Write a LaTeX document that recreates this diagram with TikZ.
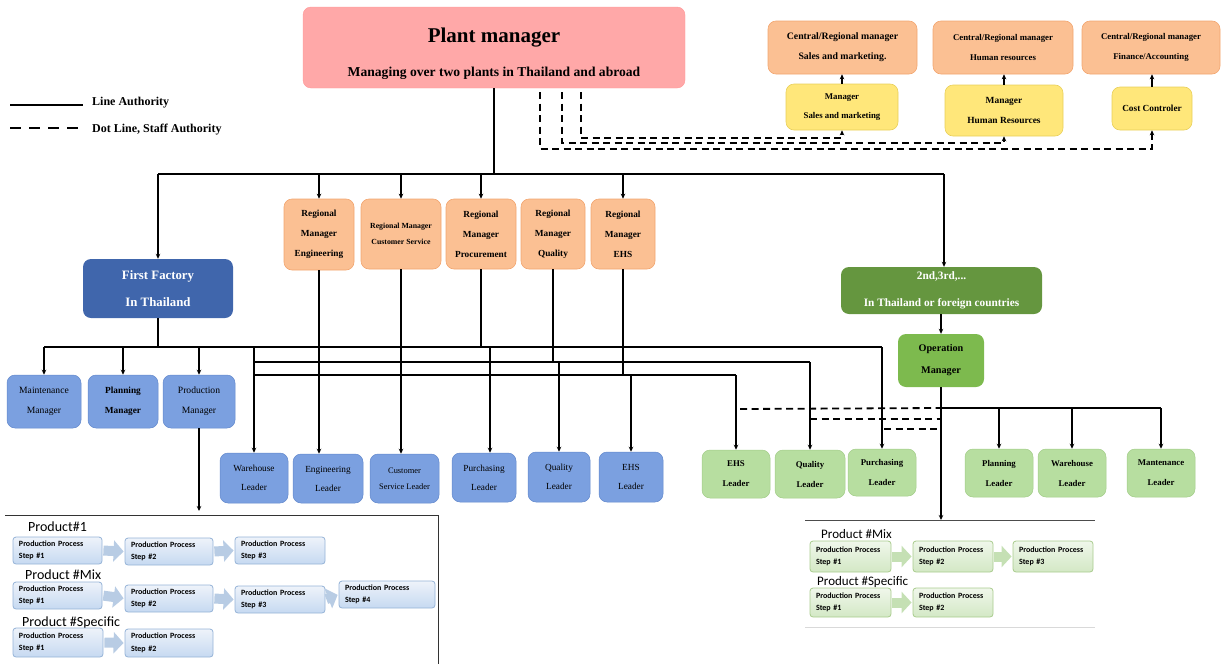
\documentclass[tikz,border=0pt]{standalone}
\usepackage{fontspec}
\setmainfont{Liberation Serif}
\newfontfamily\calib{Carlito}
\usetikzlibrary{arrows.meta,calc}
\definecolor{pmfill}{HTML}{FFA8A8}
\definecolor{peach}{HTML}{FBC093}
\definecolor{peachb}{HTML}{F2A670}
\definecolor{yel}{HTML}{FFE77A}
\definecolor{yelb}{HTML}{E8CF5A}
\definecolor{dblue}{HTML}{4066AC}
\definecolor{lblue}{HTML}{7BA0E0}
\definecolor{lblueb}{HTML}{6288CC}
\definecolor{dgreen}{HTML}{65963F}
\definecolor{mgreen}{HTML}{7DBA4E}
\definecolor{lgreen}{HTML}{B7DEA0}
\definecolor{lgreenb}{HTML}{A2CC88}
\definecolor{stepb}{HTML}{95B3D7}
\definecolor{steptop}{HTML}{EEF3FA}
\definecolor{stepbot}{HTML}{C6D9F1}
\definecolor{chevb}{HTML}{B8CCE4}
\definecolor{gstepb}{HTML}{A9CC8E}
\definecolor{gsteptop}{HTML}{F0F7EB}
\definecolor{gstepbot}{HTML}{D3E8C5}
\definecolor{chevg}{HTML}{C5E0B4}
\newcommand\obox[7]{\node[#6, minimum width={(#4)-(#2)}, minimum height={(#5)-(#3)}] (#1) at ({((#2)+(#4))/2},{((#3)+(#5))/2}) {#7};}
\newcommand\stepnode[7]{\node[#6, minimum width={(#4)-(#2)}, minimum height={(#5)-(#3)}, text width={(#4)-(#2)-12}] (#1) at ({((#2)+(#4))/2},{((#3)+(#5))/2}) {Production Process\\Step \##7};}
\newcommand\fs[2]{\fontsize{#1}{#2}\selectfont}
\begin{document}
\begin{tikzpicture}[x=1pt,y=-1pt,
  box/.style={rounded corners=8pt, align=center, inner sep=0pt, text=black},
  pmbox/.style={box, fill=pmfill, draw=pmfill!90!red},
  peachbox/.style={box, fill=peach, draw=peachb, line width=0.6pt},
  yelbox/.style={box, fill=yel, draw=yelb, line width=0.6pt},
  dbluebox/.style={box, fill=dblue, text=white, font=\bfseries\fs{12.8}{27}},
  lbluebox/.style={box, fill=lblue, draw=lblueb, line width=0.5pt},
  dgreenbox/.style={box, fill=dgreen, text=white, font=\bfseries\fs{11.3}{27}},
  mgreenbox/.style={box, fill=mgreen, font=\bfseries\fs{10.2}{22}},
  lgreenbox/.style={box, fill=lgreen, draw=lgreenb, line width=0.5pt, font=\bfseries\fs{8.8}{20}},
  stepbox/.style={rounded corners=3pt, draw=stepb, line width=0.8pt, top color=steptop, bottom color=stepbot, align=left, inner xsep=6pt, inner ysep=0pt, font=\calib\bfseries\fs{8}{12.5}},
  gstepbox/.style={stepbox, draw=gstepb, top color=gsteptop, bottom color=gstepbot},
  chev/.style={line width=10pt, draw=chevb, -{Triangle[length=10pt,width=21pt]}, shorten <=1pt, shorten >=1pt},
  gchev/.style={chev, draw=chevg},
  solid line/.style={line width=2pt, draw=black},
  arr/.style={line width=2pt, -{Stealth[length=5pt,width=4.5pt]}},
  dash line/.style={line width=1.8pt, dash pattern=on 7pt off 4.5pt},
  darr/.style={dash line, -{Stealth[length=5pt,width=4.5pt]}},
  prodlabel/.style={anchor=base west, inner sep=0pt, font=\calib\fs{14}{16}, text=black}
]
\useasboundingbox (0,0) rectangle (1226,664);

% ---------- top ----------
\obox{pm}{303}{7}{685}{88}{pmbox}{}
\node[font=\bfseries\fs{21}{24}, inner sep=0pt, anchor=base] (pmt) at (494,42) {Plant manager};
\node[font=\bfseries\fs{13.6}{16}, inner sep=0pt, anchor=base] (pms) at (494,76) {Managing over two plants in Thailand and abroad};

\obox{cs}{768}{21}{917}{74}{peachbox, font=\bfseries\fs{9.8}{20}}{Central/Regional manager\\Sales and marketing.}
\obox{ch}{933}{21}{1073}{74}{peachbox, font=\bfseries\fs{8.8}{20}}{Central/Regional manager\\Human resources}
\obox{cf}{1082}{21}{1220}{74}{peachbox, font=\bfseries\fs{8.8}{20}}{Central/Regional manager\\Finance/Accounting}
\obox{ms}{786}{84}{898}{130}{yelbox, font=\bfseries\fs{8.8}{19}}{Manager\\Sales and marketing}
\obox{mh}{945}{85}{1063}{136}{yelbox, font=\bfseries\fs{9.4}{20}}{Manager\\Human Resources}
\obox{mc}{1112}{87}{1192}{130}{yelbox, font=\bfseries\fs{9.3}{20}}{Cost Controler}

\draw[arr] (ms.north) -- (cs.south -| ms.north);
\draw[arr] (mh.north) -- (ch.south -| mh.north);
\draw[arr] (mc.north) -- (cf.south -| mc.north);

\coordinate (d1) at (540,92);
\coordinate (d2) at (562,92);
\coordinate (d3) at (581,92);
\draw[darr] (d1) |- (1152,149) -- (mc.south);
\draw[darr] (d2) |- (1004,143) -- (mh.south);
\draw[darr] (d3) |- (842,138) -- (ms.south);

% legend
\coordinate (l1a) at (10,105); \coordinate (l1b) at (83,105);
\coordinate (l2a) at (10,128); \coordinate (l2b) at (83,128);
\draw[solid line] (l1a) -- (l1b);
\draw[dash line, line width=2pt, dash pattern=on 11pt off 8pt] (l2a) -- (l2b);
\node[anchor=west, inner sep=0pt, font=\bfseries\fs{12}{14}] (lt1) at (92,103) {Line Authority};
\node[anchor=west, inner sep=0pt, font=\bfseries\fs{12}{14}] (lt2) at (92,130) {Dot Line, Staff Authority};

% ---------- level 2 ----------
\obox{ff}{83}{259}{233}{318}{dbluebox}{First Factory\\In Thailand}
\obox{re}{284}{199}{354}{270}{peachbox, font=\bfseries\fs{9.3}{20}}{Regional\\Manager\\Engineering}
\obox{rc}{361}{199}{441}{269}{peachbox, font=\bfseries\fs{7.8}{16}}{Regional Manager\\Customer Service}
\obox{rp}{446}{199}{516}{269}{peachbox, font=\bfseries\fs{9.3}{20}}{Regional\\Manager\\Procurement}
\obox{rq}{521}{199}{585}{269}{peachbox, font=\bfseries\fs{9.3}{20}}{Regional\\Manager\\Quality}
\obox{rh}{591}{199}{655}{269}{peachbox, font=\bfseries\fs{9.3}{20}}{Regional\\Manager\\EHS}
\obox{sec}{841}{267}{1042}{314}{dgreenbox}{2nd,3rd,...\\In Thailand or foreign countries}
\obox{om}{898}{334}{984}{387}{mgreenbox}{Operation\\Manager}

\coordinate (busL) at (158,174);
\coordinate (busM) at (494,174);
\coordinate (busR) at (944,174);
\draw[solid line] (pm.south) -- (busM);
\draw[solid line] (busL) -- (busR);
\draw[arr] (busL) -- (ff.north);
\draw[arr] (busM -| re.north) -- (re.north);
\draw[arr] (busM -| rc.north) -- (rc.north);
\draw[arr] (busM -| rp.north) -- (rp.north);
\draw[arr] (busM -| rh.north) -- (rh.north);
\draw[arr] (busR) -- (sec.north -| busR);
\draw[arr] (sec.south -| om.north) -- (om.north);

% ---------- managers (first factory) ----------
\obox{mm}{7}{375}{81}{428}{lbluebox, font=\fs{9.6}{20}}{Maintenance\\Manager}
\obox{mp}{88}{375}{158}{428}{lbluebox, font=\bfseries\fs{9.3}{20}}{Planning\\Manager}
\obox{mr}{163}{375}{235}{428}{lbluebox, font=\fs{9.6}{20}}{Production\\Manager}

% blue leaders
\obox{bw}{220}{453}{288}{503}{lbluebox, font=\fs{9.3}{19}}{Warehouse\\Leader}
\obox{be}{293}{454}{363}{503}{lbluebox, font=\fs{9.3}{19}}{Engineering\\Leader}
\obox{bc}{370}{454}{439}{503}{lbluebox, font=\fs{8.4}{16}}{Customer\\Service Leader}
\obox{bp}{452}{453}{516}{502}{lbluebox, font=\fs{9.3}{19}}{Purchasing\\Leader}
\obox{bq}{528}{452}{590}{502}{lbluebox, font=\fs{9.3}{19}}{Quality\\Leader}
\obox{bh}{599}{452}{663}{502}{lbluebox, font=\fs{9.3}{19}}{EHS\\Leader}

% green leaders
\obox{gh}{702}{450}{770}{498}{lgreenbox}{EHS\\Leader}
\obox{gq}{775}{450}{845}{498}{lgreenbox}{Quality\\Leader}
\obox{gp}{848}{449}{916}{496}{lgreenbox}{Purchasing\\Leader}
\obox{gpl}{965}{449}{1033}{497}{lgreenbox}{Planning\\Leader}
\obox{gw}{1038}{449}{1106}{497}{lgreenbox}{Warehouse\\Leader}
\obox{gm}{1127}{449}{1195}{497}{lgreenbox}{Mantenance\\Leader}

% first factory bus and cross lines
\coordinate (ffb) at (158,347);
\coordinate (h1L) at (44,347);
\coordinate (h2L) at (254,362);
\coordinate (h3L) at (254,375);
\draw[solid line] (ff.south) -- (ffb);
\draw[solid line] (h1L) -- (gp.north |- h1L);
\draw[arr] (gp.north |- h1L) -- (gp.north);
\draw[solid line] (h2L) -- (gq.north |- h2L);
\draw[arr] (gq.north |- h2L) -- (gq.north);
\draw[solid line] (h3L) -- (gh.north |- h3L);
\draw[arr] (gh.north |- h3L) -- (gh.north);
\draw[arr] (mm.north |- h1L) -- (mm.north);
\draw[arr] (mp.north |- h1L) -- (mp.north);
\draw[arr] (mr.north |- h1L) -- (mr.north);
\draw[arr] (bw.north |- h1L) -- (bw.north);

\draw[solid line] (rp.south) -- (rp.south |- h1L);
\draw[solid line] (rq.south) -- (rq.south |- h2L);
\draw[solid line] (rh.south) -- (rh.south |- h3L);
\coordinate (bpt) at (490,347);
\draw[arr] (bpt) -- (bpt |- bp.north);
\draw[arr] (bq.north |- h2L) -- (bq.north);
\draw[arr] (bh.north |- h3L) -- (bh.north);
\draw[arr] (re.south) -- (re.south |- be.north);
\draw[arr] (rc.south) -- (rc.south |- bc.north);

% operation manager
\coordinate (omj) at (941,408);
\coordinate (omr) at (1161,408);
\coordinate (omb) at (941,520);
\draw[arr] (om.south) -- (omb);
\draw[solid line] (omj) -- (omr);
\draw[arr] (gpl.north |- omj) -- (gpl.north);
\draw[arr] (gw.north |- omj) -- (gw.north);
\draw[arr] (gm.north |- omj) -- (gm.north);
\draw[dash line] (740,409) -- (omj);
\draw[dash line] (810,419) -- (941,419);
\draw[dash line] (884,429) -- (941,429);

% ---------- bottom-left production frame ----------
\coordinate (fa) at (5,515);
\coordinate (fb) at (438,515);
\coordinate (fc) at (438,664);
\draw[line width=1pt, black!80] (fa) -- (fb) -- (fc);
\draw[arr] (mr.south) -- (199,511);

\node[prodlabel] (p1) at (28,531) {Product\#1};
\node[prodlabel] (p2) at (25,579) {Product \#Mix};
\node[prodlabel] (p3) at (22,626) {Product \#Specific};

\stepnode{a1}{13}{537}{102}{564}{stepbox}{1}
\stepnode{a2}{125}{538}{213}{565}{stepbox}{2}
\stepnode{a3}{235}{537}{325}{564}{stepbox}{3}
\draw[chev] (a1.east) -- (a2.west);
\draw[chev] (a2.east) -- (a3.west);

\stepnode{b1}{13}{582}{102}{609}{stepbox}{1}
\stepnode{b2}{125}{585}{213}{612}{stepbox}{2}
\stepnode{b3}{235}{586}{325}{613}{stepbox}{3}
\stepnode{b4}{339}{581}{435}{608}{stepbox}{4}
\draw[chev] (b1.east) -- (b2.west);
\draw[chev] (b2.east) -- (b3.west);
\draw[chev] (b3.east) -- (b4.west);

\stepnode{c1}{13}{628}{103}{657}{stepbox}{1}
\stepnode{c2}{125}{629}{213}{657}{stepbox}{2}
\draw[chev] (c1.east) -- (c2.west);

% ---------- bottom-right production frame ----------
\coordinate (ga) at (805,520);
\coordinate (gb) at (1095,520);
\draw[line width=1pt, black!70] (ga) -- (gb);
\draw[line width=0.6pt, black!15] (805,627) -- (1095,627);

\node[prodlabel, font=\calib\fs{13}{15}] (q1) at (821,538) {Product \#Mix};
\node[prodlabel, font=\calib\fs{13}{15}] (q2) at (817,585) {Product \#Specific};

\stepnode{e1}{810}{541}{891}{572}{gstepbox}{1}
\stepnode{e2}{913}{541}{993}{572}{gstepbox}{2}
\stepnode{e3}{1013}{541}{1093}{572}{gstepbox}{3}
\draw[gchev] (e1.east) -- (e2.west);
\draw[gchev] (e2.east) -- (e3.west);
\stepnode{f1}{810}{588}{891}{617}{gstepbox}{1}
\stepnode{f2}{913}{588}{993}{617}{gstepbox}{2}
\draw[gchev] (f1.east) -- (f2.west);
\end{tikzpicture}
\end{document}
